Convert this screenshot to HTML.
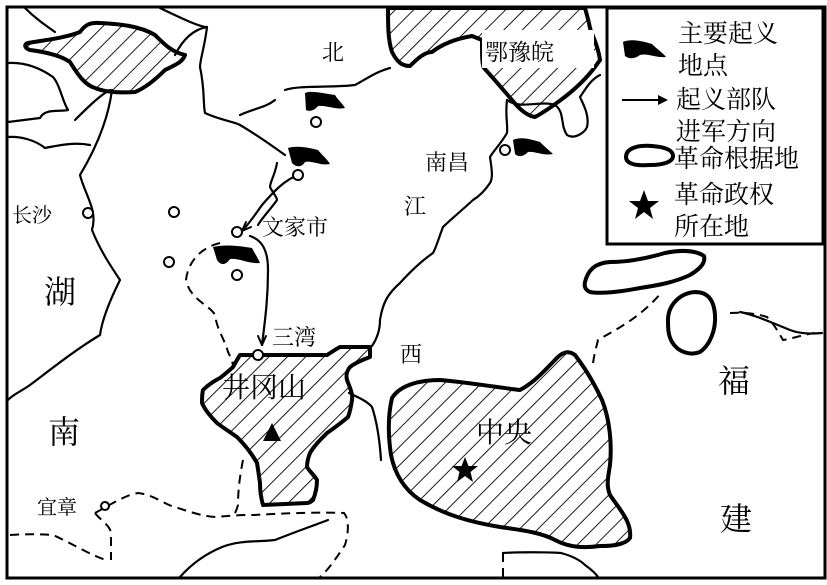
<!DOCTYPE html>
<html><head><meta charset="utf-8"><style>
html,body{margin:0;padding:0;background:#fff;}
svg{display:block;}
text{font-family:"Liberation Serif","Noto Serif CJK SC",serif;fill:#000;}
</style></head><body>
<svg width="827" height="585" viewBox="0 0 827 585" xmlns="http://www.w3.org/2000/svg">
<defs>
<pattern id="h" patternUnits="userSpaceOnUse" width="13" height="13" patternTransform="rotate(45)">
<line x1="0" y1="0" x2="0" y2="13" stroke="#000" stroke-width="1.8"/>
</pattern>
</defs>
<rect x="0" y="0" width="827" height="585" fill="#fff"/>
<g fill="none" stroke="#000" stroke-width="2.2" stroke-linejoin="round" stroke-linecap="round">
<path d="M8,63 C25,62 40,68 53,77 C60,85 62,100 68,110 C60,112 45,108 40,118 L8,122"/>
<path d="M8,137 C20,136 35,140 45,148 C60,145 75,142 90,145"/>
<path d="M25,8 C35,18 45,25 55,32"/>
<path d="M160,8 C185,20 200,27 207,27 C205,45 200,60 200,67 C205,90 203,105 205,113 C220,120 235,122 240,125 C262,138 275,148 285,155"/>
<path d="M207,27 C190,30 180,45 175,55"/>
<path d="M112,90 C108,120 95,150 80,175 C85,195 98,210 92,230 C100,250 110,265 120,280 C110,300 102,320 100,335 C75,350 50,370 30,385 C20,392 12,395 8,400"/>
<path d="M110,90 C100,95 85,110 75,120"/>
<path d="M285,90 C300,85 330,88 355,85 C365,80 375,72 390,68"/>
<path d="M240,115 C255,108 265,108 275,100"/>
<path d="M277,163 C275,175 270,182 270,187 C273,193 277,197 277,200 C270,210 262,218 258,225"/>
<path d="M250,236 C262,240 268,250 268,270 C268,300 265,320 262,345"/>
<path d="M298,175 C285,180 275,190 262,205 C255,215 248,225 242,231"/>
<path d="M242,231 L246,222 M242,231 L251,227" stroke-width="2"/>
<path d="M262,345 L258,336 M262,345 L266,336" stroke-width="2"/>
<path d="M507,100 C505,115 508,125 507,133 C500,145 494,150 490,157 C492,170 493,178 490,183 C484,192 478,197 473,200 C460,212 450,220 443,227 C438,240 436,248 433,253 C420,262 410,272 400,283 C390,292 383,300 380,320 C380,332 376,340 372,346"/>
<path d="M507,100 C520,110 540,100 555,105 C565,112 560,125 567,135 C575,140 585,132 587,127 C590,115 582,102 580,97 C585,90 590,80 600,75"/>
<path d="M349,393 C360,398 368,402 372,407 C378,425 380,445 381,460"/>
<path d="M180,577 C195,560 210,552 222,547 C240,540 258,542 275,540 C295,532 315,525 328,520"/>
<path d="M503,553 C520,552 545,552 561,553 C572,556 580,560 585,565 C592,570 596,574 598,577"/>
<path d="M740,312 C755,315 770,322 790,330 C800,334 812,334 822,333"/>
</g>
<g fill="none" stroke="#000" stroke-width="2" stroke-dasharray="9,6">
<path d="M220,243 C200,248 188,262 186,280 C190,300 210,305 215,315 C217,330 225,340 228,352 C232,360 233,363 233,367"/>
<path d="M243,460 C240,475 238,490 238,505 C236,512 234,515 233,517"/>
<path d="M95,513 C110,505 125,495 138,493 C155,495 165,505 175,507 C190,512 205,517 217,517 C235,515 245,515 254,515 C290,513 320,512 344,513 C350,520 348,535 345,545 C335,560 328,570 320,577"/>
<path d="M10,535 C25,534 40,534 53,535 C75,545 90,555 106,560"/>
<path d="M95,513 C100,520 110,525 111,533 L111,560"/>
<path d="M593,363 C595,350 597,345 598,340 C615,330 640,318 661,293"/>
<path d="M730,313 C745,312 758,314 767,317 C775,325 780,335 783,340 C795,338 805,334 815,333"/>
<path d="M503,553 L503,577"/>
</g>
<g stroke="#000" stroke-width="4" stroke-linejoin="round" fill="url(#h)">
<path d="M28,43 C45,40 65,38 80,32 C85,25 90,22 100,23 C120,24 140,26 155,35 C165,45 172,52 185,55 C183,62 175,65 165,70 C155,80 145,88 135,92 C120,93 105,92 95,88 C85,85 78,75 70,62 C60,55 45,52 30,50 C24,48 24,44 28,43 Z"/>
<path d="M388,8 C388,25 388,40 392,52 C397,62 402,66 410,66 C418,58 425,52 432,52 C445,42 460,38 472,36 L482,40 C482,55 482,65 484,68 C495,80 505,92 512,100 C520,110 528,116 535,117 C548,110 558,102 566,96 C580,85 592,72 600,60 C598,45 592,35 590,28 C588,18 586,12 585,8 Z"/>
<path d="M240,355 L327,355 C332,352 336,349 340,347 L370,347 L370,357 C362,360 355,363 350,367 C346,372 346,376 347,380 C350,388 353,394 352,400 C351,407 350,412 348,417 C340,424 334,428 327,433 C320,440 314,446 310,453 C308,458 307,462 307,467 C310,472 315,476 317,480 C317,488 315,495 313,500 C311,502 309,503 307,503 L263,505 C261,498 260,490 260,483 C259,476 258,469 257,463 C252,454 245,445 237,437 C230,432 222,427 217,423 C210,416 205,410 202,403 C202,398 202,394 203,390 C208,385 214,381 220,378 C225,374 230,370 233,367 C236,362 238,358 240,355 Z"/>
<path d="M392,398 C400,385 420,380 440,380 C465,382 495,387 520,390 C535,382 545,370 555,360 C562,352 568,350 575,355 C585,368 595,385 602,400 C610,420 612,445 610,465 C608,478 606,485 610,495 C620,510 632,522 630,538 C625,545 612,546 600,546 C585,548 570,548 555,540 C540,532 520,530 500,527 C470,522 445,515 420,500 C405,490 395,475 391,455 C388,435 388,415 392,398 Z"/>
</g>
<g fill="#fff" stroke="#000" stroke-width="4" stroke-linejoin="round">
<path d="M585,282 C588,270 595,263 610,262 C630,262 648,258 665,253 C680,250 695,250 704,256 C706,264 698,270 690,275 C675,282 660,285 640,288 C620,292 600,294 590,292 C585,290 584,286 585,282 Z"/>
<path d="M668,320 C668,305 680,293 695,292 C708,292 714,300 715,315 C716,330 710,345 700,352 C690,356 678,352 672,342 C668,335 668,328 668,320 Z"/>
<path d="M626,157 C626,148 638,145 652,146 C665,147 673,150 673,156 C673,162 663,165 650,165 C636,166 626,164 626,157 Z"/>
</g>
<rect x="482" y="30" width="112" height="38" fill="#fff"/>
<g fill="#000">
<path d="M305,93 C312,90 325,94 335,95 C338,100 343,104 345,108 C336,110 326,105 318,106 C315,110 310,112 306,110 Z"/>
<path d="M288,148 C298,145 310,148 318,150 C322,155 328,160 330,164 C320,166 312,160 305,162 C302,167 297,168 292,163 Z"/>
<path d="M213,247 C225,244 240,246 252,248 C255,254 258,258 260,263 C248,264 240,258 230,259 C226,265 221,266 217,260 Z"/>
<path d="M513,140 C522,136 532,140 540,142 C545,147 550,151 553,154 C543,156 535,151 528,152 C524,156 519,158 515,154 Z"/>
<path d="M623,42 C632,38 645,42 652,44 C657,49 663,53 666,57 C655,58 648,53 640,55 C636,58 630,60 625,56 Z"/>
</g>
<g fill="#fff" stroke="#000" stroke-width="2">
<circle cx="316" cy="122" r="5"/><circle cx="298" cy="175" r="5"/><circle cx="174" cy="212" r="5"/>
<circle cx="237" cy="232" r="5"/><circle cx="169" cy="262" r="5"/><circle cx="237" cy="275" r="5"/>
<circle cx="88" cy="213" r="5"/><circle cx="258" cy="355" r="5"/><circle cx="505" cy="150" r="5"/>
<circle cx="105" cy="506" r="4"/>
</g>
<polygon points="272,423 281,441 263,441" fill="#000"/>
<polygon points="465,457 468.5,466 478,466 470.5,472 473,482 465,476 457,482 459.5,472 452,466 461.5,466" fill="#000"/>
<polygon points="644,190 648,201 659,201 650,208 653,219 644,212 635,219 638,208 629,201 640,201" fill="#000"/>
<g fill="none" stroke="#000">
<rect x="607" y="8" width="216" height="236" stroke-width="3" fill="none"/>
<line x1="622" y1="100" x2="664" y2="100" stroke-width="2"/>
</g>
<polygon points="668,100 658,95 658,105" fill="#000"/>
<rect x="7" y="7" width="818" height="571" fill="none" stroke="#000" stroke-width="3"/>
<text x="678" y="42" font-size="25">主要起义</text>
<text x="678" y="74" font-size="25">地点</text>
<text x="676" y="108" font-size="25">起义部队</text>
<text x="676" y="140" font-size="25">进军方向</text>
<text x="674" y="167" font-size="25">革命根据地</text>
<text x="674" y="203" font-size="25">革命政权</text>
<text x="674" y="235" font-size="25">所在地</text>
<text x="322" y="60" font-size="22">北</text>
<text x="485" y="60" font-size="23">鄂豫皖</text>
<text x="425" y="170" font-size="22">南昌</text>
<text x="404" y="214" font-size="22">江</text>
<text x="12" y="222" font-size="20">长沙</text>
<text x="262" y="235" font-size="22">文家市</text>
<text x="44" y="303" font-size="32">湖</text>
<text x="272" y="345" font-size="22">三湾</text>
<text x="400" y="362" font-size="22">西</text>
<text x="222" y="397" font-size="28">井冈山</text>
<text x="48" y="443" font-size="32">南</text>
<text x="476" y="442" font-size="28">中央</text>
<text x="718" y="392" font-size="32">福</text>
<text x="720" y="530" font-size="32">建</text>
<text x="37" y="514" font-size="20">宜章</text>
</svg>
</body></html>
